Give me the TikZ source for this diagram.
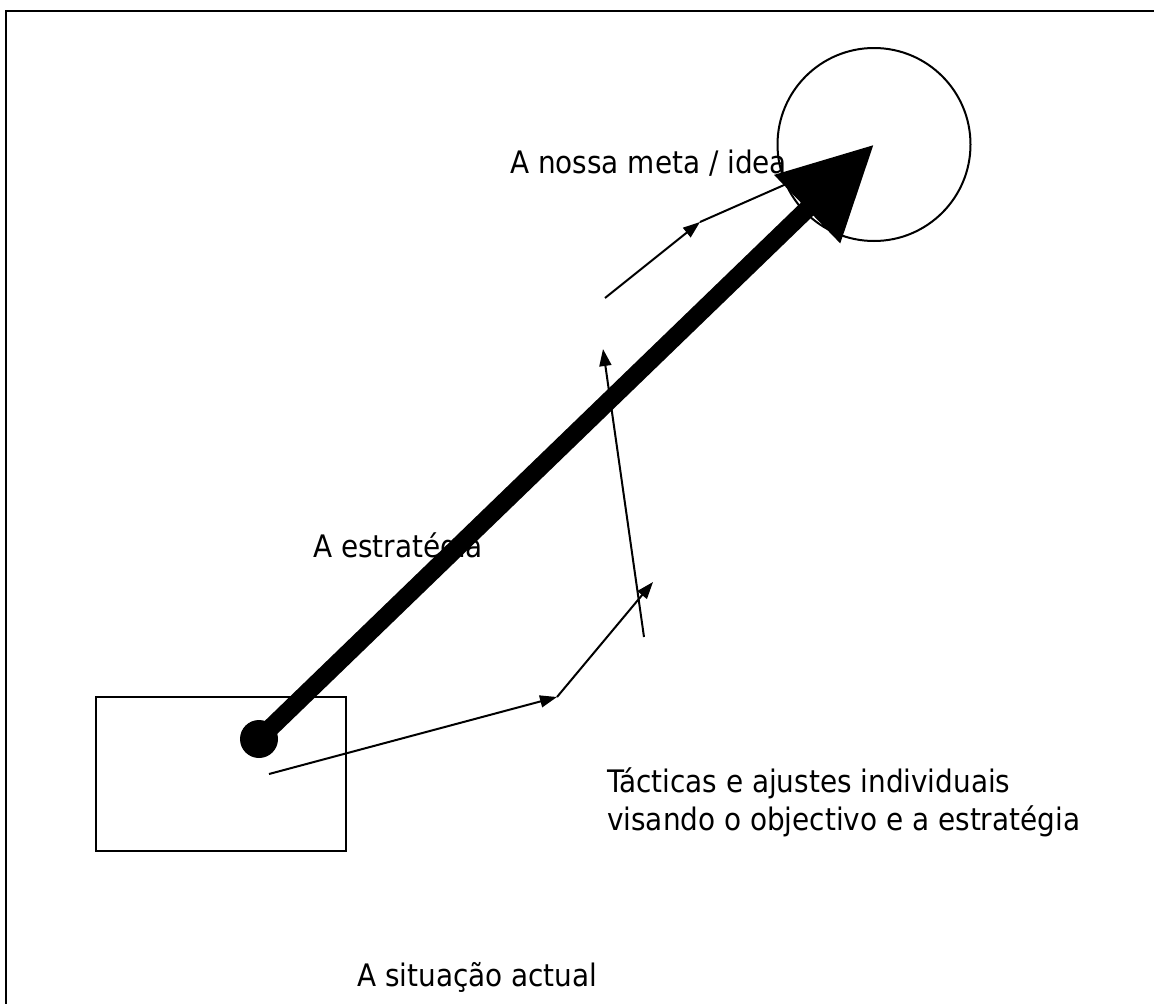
\documentclass[tikz,border=0pt]{standalone}
\usepackage{fontspec}
\setmainfont{DejaVu Sans Condensed}
\usetikzlibrary{arrows.meta}
\tikzstyle{tline}=[draw=black, line width=2pt]
\tikzstyle{tactic}=[tline, -{Triangle[length=17pt,width=12pt]}]
\tikzstyle{txt}=[anchor=base west, inner sep=0pt, font=\fontsize{31}{38}\selectfont]
\tikzstyle{goal}=[circle, draw=black, line width=2pt, minimum size=193pt, inner sep=0pt]
\tikzstyle{now}=[rectangle, draw=black, line width=2pt, minimum width=250pt, minimum height=154pt, inner sep=0pt]
\tikzstyle{startdot}=[circle, fill=black, minimum size=38pt, inner sep=0pt]
\tikzstyle{strategy}=[draw=black, line width=18pt, -{Triangle[length=93pt,width=90pt]}]

\begin{document}
\begin{tikzpicture}[x=1pt, y=-1pt]
	\useasboundingbox (0,0) rectangle (1154,1004);
	\draw [line width=2.5pt] (6,1004) -- (6,11) -- (1154,11);
	% shapes
	\node [style=now] (box) at (221,773.5) {};
	\node [style=goal] (ring) at (874,144.5) {};
	% texts
	\node [style=txt] (meta) at (510,173) {A nossa meta / idea};
	\node [style=txt] (estr) at (313,557) {A estratégia};
	\node [style=txt] (tac1) at (607,792) {Tácticas e ajustes individuais};
	\node [style=txt] (tac2) at (607,830) {visando o objectivo e a estratégia};
	\node [style=txt] (sit) at (357,986) {A situação actual};
	% tactics
	\coordinate (0) at (269,774);
	\coordinate (1) at (557,697);
	\coordinate (2) at (653,582);
	\coordinate (3) at (644,637);
	\coordinate (4) at (603,349);
	\coordinate (5) at (605,298);
	\coordinate (6) at (700,222);
	\coordinate (7) at (800,178);
	\draw [style=tactic] (0) to (1);
	\draw [style=tactic] (1) to (2);
	\draw [style=tactic] (3) to (4);
	\draw [style=tactic] (5) to (6);
	\draw [style=tline] (6) to (7);
	% strategy
	\node [style=startdot] (dot) at (259,739) {};
	\draw [style=strategy] (dot.center) to (ring.center);
\end{tikzpicture}
\end{document}
